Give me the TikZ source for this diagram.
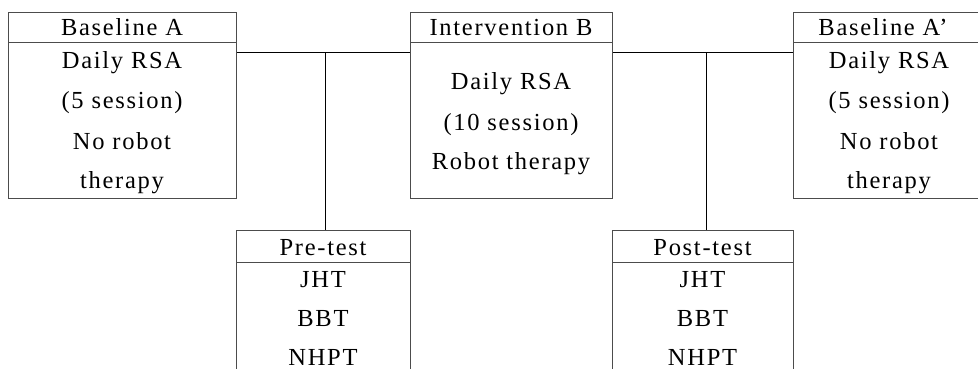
\documentclass[tikz,border=0pt]{standalone}
\usepackage{fontspec}
\setmainfont{Liberation Serif}[LetterSpace=7]
\begin{document}
\begin{tikzpicture}[x=1pt,y=-1pt,
  box/.style={draw=black!70,line width=1pt,inner sep=0pt,anchor=north west},
  rule/.style={draw=black!70,line width=1pt},
  conn/.style={draw=black,line width=1pt},
  txt/.style={inner sep=0pt,anchor=base,font=\fontsize{24.5}{28}\selectfont}]
\clip (0,0) rectangle (978,369);
\fill[white] (0,0) rectangle (978,369);
% boxes
\node[box,minimum width=228pt,minimum height=186pt] (A) at (8,12) {};
\node[box,minimum width=202pt,minimum height=186pt] (B) at (410,12) {};
\node[box,minimum width=194pt,minimum height=186pt] (C) at (793,12) {};
\node[box,minimum width=174pt,minimum height=160pt] (P) at (236,230) {};
\node[box,minimum width=181pt,minimum height=160pt] (Q) at (612,230) {};
% header rules
\draw[rule] (8,43) -- (236,43);
\draw[rule] (410,43) -- (612,43);
\draw[rule] (793,43) -- (990,43);
\draw[rule] (236,262) -- (410,262);
\draw[rule] (612,262) -- (793,262);
% connectors
\coordinate (j1) at (325,53);
\coordinate (j2) at (706,53);
\draw[conn] (A.east |- 0,53) -- (B.west |- 0,53);
\draw[conn] (B.east |- 0,53) -- (C.west |- 0,53);
\draw[conn] (j1) -- (j1 |- P.north);
\draw[conn] (j2) -- (j2 |- Q.north);
% texts
\node[txt] (a0) at (122,36) {Baseline A};
\node[txt] (a1) at (122,69) {Daily RSA};
\node[txt] (a2) at (122,109) {(5 session)};
\node[txt] (a3) at (122,149) {No robot};
\node[txt] (a4) at (122,188) {therapy};
\node[txt] (b0) at (511,36) {Intervention B};
\node[txt] (b1) at (511,89) {Daily RSA};
\node[txt] (b2) at (511,130) {(10 session)};
\node[txt] (b3) at (511,169) {Robot therapy};
\node[txt] (c0) at (883,36) {Baseline A’};
\node[txt] (c1) at (889,69) {Daily RSA};
\node[txt] (c2) at (889,109) {(5 session)};
\node[txt] (c3) at (889,149) {No robot};
\node[txt] (c4) at (889,188) {therapy};
\node[txt] (p0) at (323,255) {Pre-test};
\node[txt] (p1) at (323,287) {JHT};
\node[txt] (p2) at (323,326) {BBT};
\node[txt] (p3) at (323,365) {NHPT};
\node[txt] (q0) at (702.5,255) {Post-test};
\node[txt] (q1) at (702.5,287) {JHT};
\node[txt] (q2) at (702.5,326) {BBT};
\node[txt] (q3) at (702.5,365) {NHPT};
\end{tikzpicture}
\end{document}
